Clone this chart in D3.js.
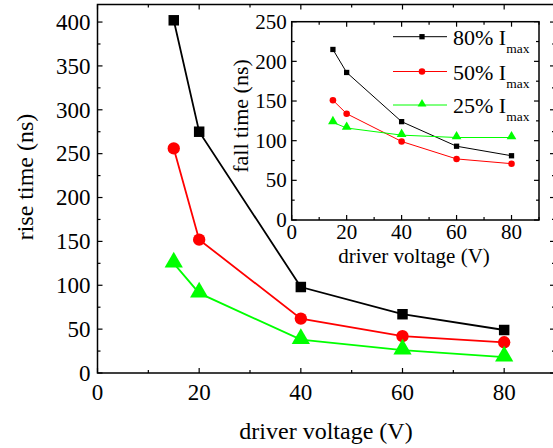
<!DOCTYPE html>
<html>
<head>
<meta charset="utf-8">
<script src="https://cdn.jsdelivr.net/npm/d3@7"></script>
<style>
  body { margin: 0; background: #fff; }
  svg { display: block; font-family: "Liberation Serif", "Times New Roman", serif; }
</style>
</head>
<body>
<div class="graph"></div>
<script>
// main plot: rise time
var voltages = [15, 20, 40, 60, 80];
var rise80 = [402, 275, 98, 67, 49];
var rise50 = [256, 152, 62, 42, 35];
var rise25 = [125, 91, 38, 26, 18];

// inset: fall time
var fall80 = [215, 186, 124, 93, 81];
var fall50 = [151, 134, 99, 77, 71];
var fall25 = [123, 116, 107, 104, 104];

var mainXTicks = [0, 20, 40, 60, 80];
var mainYTicks = [0, 50, 100, 150, 200, 250, 300, 350, 400];
var insetXTicks = [0, 20, 40, 60, 80];
var insetYTicks = [0, 50, 100, 150, 200, 250];
var seriesNames = ['80%', '50%', '25%'];

var width = 553, height = 448;
var colors = ['#000000', '#ff0000', '#00ff00'];
var shapes = [d3.symbolSquare, d3.symbolCircle, d3.symbolTriangle];

var svg = d3.select('.graph')
    .append('svg')
    .attr('width', width)
    .attr('height', height);

function drawFrame(g, x, y, opt) {
    var x0 = x.range()[0], x1 = x.range()[1];
    var y0 = y.range()[0], y1 = y.range()[1];

    g.append('rect')
        .attr('x', x0).attr('y', y1)
        .attr('width', x1 - x0).attr('height', y0 - y1)
        .attr('fill', '#fff')
        .attr('stroke', '#000')
        .attr('stroke-width', 1.5);

    // ticks pointing inward on all four sides
    var xt = d3.range(0, x.domain()[1] + 0.001, opt.xMinor);
    xt.forEach(function (v) {
        var len = (v % opt.xMajor === 0) ? 5 : 3;
        g.append('line').attr('x1', x(v)).attr('x2', x(v))
            .attr('y1', y0).attr('y2', y0 - len).attr('stroke', '#000').attr('stroke-width', 1.2);
        g.append('line').attr('x1', x(v)).attr('x2', x(v))
            .attr('y1', y1).attr('y2', y1 + len).attr('stroke', '#000').attr('stroke-width', 1.2);
    });
    var yt = d3.range(0, y.domain()[1] + 0.001, opt.yMinor);
    yt.forEach(function (v) {
        var len = (v % opt.yMajor === 0) ? 5 : 3;
        g.append('line').attr('y1', y(v)).attr('y2', y(v))
            .attr('x1', x0).attr('x2', x0 + len).attr('stroke', '#000').attr('stroke-width', 1.2);
        g.append('line').attr('y1', y(v)).attr('y2', y(v))
            .attr('x1', x1).attr('x2', x1 - len).attr('stroke', '#000').attr('stroke-width', 1.2);
    });

    g.selectAll('.xlab')
        .data(opt.xTicks)
        .enter()
        .append('text')
        .attr('x', function (d) { return x(d); })
        .attr('y', y0 + opt.xLabOff)
        .attr('text-anchor', 'middle')
        .attr('font-size', opt.tickSize)
        .text(function (d) { return d; });

    g.selectAll('.ylab')
        .data(opt.yTicks)
        .enter()
        .append('text')
        .attr('x', x0 - opt.yLabOff)
        .attr('y', function (d) { return y(d); })
        .attr('dy', '0.34em')
        .attr('text-anchor', 'end')
        .attr('font-size', opt.tickSize)
        .text(function (d) { return d; });
}

function drawSeries(g, x, y, vals, i, lw, size) {
    var line = d3.line()
        .x(function (d, j) { return x(voltages[j]); })
        .y(function (d) { return y(d); });

    g.append('path')
        .datum(vals)
        .attr('d', line)
        .attr('fill', 'none')
        .attr('stroke', colors[i])
        .attr('stroke-width', lw);

    g.selectAll('.pt' + i)
        .data(vals)
        .enter()
        .append('path')
        .attr('d', d3.symbol().type(shapes[i]).size(i === 2 ? size * 1.2 : size))
        .attr('transform', function (d, j) {
            var dy = i === 2 ? -1 : 0;
            return 'translate(' + x(voltages[j]) + ',' + (y(d) + dy) + ')';
        })
        .attr('fill', colors[i]);
}

// ---------- main chart ----------
var xMain = d3.scaleLinear().domain([0, 90]).range([97.5, 555]);
var yMain = d3.scaleLinear().domain([0, 420]).range([373, 4.5]);

var main = svg.append('g');
drawFrame(main, xMain, yMain, {
    xMinor: 10, xMajor: 20, yMinor: 25, yMajor: 50,
    xTicks: mainXTicks, yTicks: mainYTicks,
    tickSize: 23, xLabOff: 27, yLabOff: 7
});

[rise80, rise50, rise25].forEach(function (vals, i) {
    drawSeries(main, xMain, yMain, vals, i, 1.8, i === 0 ? 110 : 120);
});

main.append('text')
    .attr('x', 326)
    .attr('y', 439)
    .attr('text-anchor', 'middle')
    .attr('font-size', 24)
    .text('driver voltage (V)');

main.append('text')
    .attr('transform', 'translate(33,177) rotate(-90)')
    .attr('text-anchor', 'middle')
    .attr('font-size', 24)
    .text('rise time (ns)');

// ---------- inset ----------
var xIn = d3.scaleLinear().domain([0, 90]).range([291.7, 539]);
var yIn = d3.scaleLinear().domain([0, 250]).range([220, 21.7]);

var inset = svg.append('g');
drawFrame(inset, xIn, yIn, {
    xMinor: 10, xMajor: 20, yMinor: 25, yMajor: 50,
    xTicks: insetXTicks, yTicks: insetYTicks,
    tickSize: 21, xLabOff: 19, yLabOff: 5
});

[fall80, fall50, fall25].forEach(function (vals, i) {
    drawSeries(inset, xIn, yIn, vals, i, 1, i === 0 ? 28 : 34);
});

inset.append('text')
    .attr('x', 414)
    .attr('y', 263)
    .attr('text-anchor', 'middle')
    .attr('font-size', 21)
    .text('driver voltage (V)');

inset.append('text')
    .attr('transform', 'translate(248,116) rotate(-90)')
    .attr('text-anchor', 'middle')
    .attr('font-size', 22)
    .text('fall time (ns)');

// legend
var legend = inset.selectAll('.leg')
    .data(seriesNames)
    .enter()
    .append('g')
    .attr('transform', function (d, i) { return 'translate(0,' + [36.7, 71.5, 105][i] + ')'; });

legend.append('line')
    .attr('x1', 393).attr('x2', 447)
    .attr('y1', 0).attr('y2', 0)
    .attr('stroke', function (d, i) { return colors[i]; })
    .attr('stroke-width', 1);

legend.append('path')
    .attr('d', function (d, i) { return d3.symbol().type(shapes[i]).size(i === 0 ? 28 : 34)(); })
    .attr('transform', function (d, i) { return 'translate(422,' + (i === 2 ? -1 : 0) + ')'; })
    .attr('fill', function (d, i) { return colors[i]; });

var lt = legend.append('text')
    .attr('x', 453)
    .attr('y', 8)
    .attr('font-size', 22);
lt.append('tspan').text(function (d) { return d + ' I'; });
lt.append('tspan')
    .attr('font-size', 13.5)
    .attr('dy', 8)
    .text('max');
</script>
</body>
</html>
